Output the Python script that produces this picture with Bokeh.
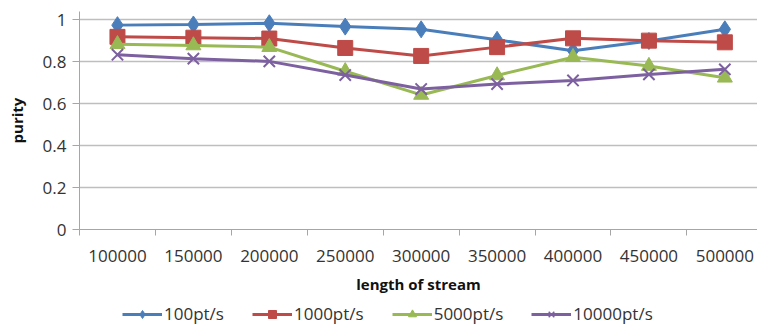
from bokeh.plotting import figure
from bokeh.models import Range1d, FixedTicker, Legend, LegendItem
from bokeh.layouts import column
from bokeh.embed import file_html
from bokeh.resources import INLINE

categories = ["100000", "150000", "200000", "250000", "300000",
              "350000", "400000", "450000", "500000"]
s100 = [0.975, 0.978, 0.984, 0.968, 0.955, 0.905, 0.853, 0.899, 0.955]
s1000 = [0.919, 0.915, 0.911, 0.866, 0.828, 0.870, 0.912, 0.901, 0.893]
s5000 = [0.884, 0.878, 0.870, 0.755, 0.642, 0.735, 0.822, 0.780, 0.724]
s10000 = [0.834, 0.815, 0.802, 0.737, 0.670, 0.694, 0.711, 0.740, 0.764]
series_names = ["100pt/s", "1000pt/s", "5000pt/s", "10000pt/s"]
y_ticks = [0, 0.2, 0.4, 0.6, 0.8, 1]

colors = ["#4A7EBB", "#BE4B48", "#98B954", "#7D60A0"]
markers = ["diamond", "square", "triangle", "x"]
sizes = [17, 15, 15, 16]

xs = [i + 0.5 for i in range(len(categories))]

p = figure(width=757, height=300, output_backend="svg", toolbar_location=None,
           x_range=Range1d(0, 8.93), y_range=Range1d(0, 1.04))
p.min_border_left = 79
p.min_border_right = 0
p.min_border_top = 11
p.min_border_bottom = 71
p.outline_line_color = None
p.background_fill_color = "white"
p.border_fill_color = "white"

font = "Open Sans"
xa = p.xaxis[0]
xa.ticker = FixedTicker(ticks=xs, minor_ticks=list(range(0, 10)))
xa.major_label_overrides = {x: c for x, c in zip(xs, categories)}
xa.major_tick_out = 0
xa.major_tick_in = 0
xa.minor_tick_out = 6
xa.minor_tick_in = 0
xa.minor_tick_line_color = "#A6A6A6"
xa.axis_line_color = "#A6A6A6"
xa.major_label_text_font = font
xa.major_label_text_font_size = "17px"
xa.major_label_text_color = "#333333"
xa.major_label_standoff = 14
xa.axis_label = "length of stream"
xa.axis_label_text_font = font
xa.axis_label_text_font_size = "15px"
xa.axis_label_text_font_style = "bold"
xa.axis_label_text_color = "#111111"
xa.axis_label_standoff = 9

ya = p.yaxis[0]
ya.ticker = FixedTicker(ticks=y_ticks)
ya.major_label_overrides = {0: "0", 1: "1"}
ya.major_tick_out = 7
ya.major_tick_in = 0
ya.minor_tick_line_color = None
ya.major_tick_line_color = "#A6A6A6"
ya.axis_line_color = "#A6A6A6"
ya.major_label_text_font = font
ya.major_label_text_font_size = "17px"
ya.major_label_text_color = "#333333"
ya.major_label_standoff = 6
ya.axis_label = "purity"
ya.axis_label_text_font = font
ya.axis_label_text_font_size = "15px"
ya.axis_label_text_font_style = "bold"
ya.axis_label_text_color = "#111111"
ya.axis_label_standoff = 13

p.xgrid.grid_line_color = None
p.ygrid.grid_line_color = "#BEBEBE"
p.ygrid.grid_line_width = 1.5

# legend figure
q = figure(width=757, height=27, output_backend="svg", toolbar_location=None,
           x_range=Range1d(0, 1), y_range=Range1d(0, 1))
q.axis.visible = False
q.grid.grid_line_color = None
q.outline_line_color = None
q.min_border_left = 0
q.min_border_right = 0
q.min_border_top = 0
q.min_border_bottom = 0

items = []
for name, vals, c, m, s in zip(series_names, [s100, s1000, s5000, s10000], colors, markers, sizes):
    p.line(xs, vals, line_color=c, line_width=3)
    if m == "x":
        p.scatter(xs, vals, marker=m, size=s, line_color=c, line_width=2)
    else:
        p.scatter(xs, vals, marker=m, size=s, fill_color=c, line_color=c)
    ln = q.line([-5, -4], [-5, -4], line_color=c, line_width=3)
    if m == "x":
        sc = q.scatter([-5], [-5], marker=m, line_color=c, line_width=1.5)
    else:
        sc = q.scatter([-5], [-5], marker=m, fill_color=c, line_color=c)
    items.append(LegendItem(label=name, renderers=[ln, sc]))

legend = Legend(items=items, orientation="horizontal", location=(43, 2))
legend.border_line_color = None
legend.background_fill_alpha = 0
legend.label_text_font = font
legend.label_text_font_size = "17px"
legend.label_text_color = "#333333"
legend.glyph_width = 40
legend.glyph_height = 20
legend.label_standoff = 2
legend.spacing = 28
legend.padding = 0
legend.margin = 0
q.add_layout(legend)

open("out.html", "w").write(file_html(column(p, q, spacing=0), INLINE))
